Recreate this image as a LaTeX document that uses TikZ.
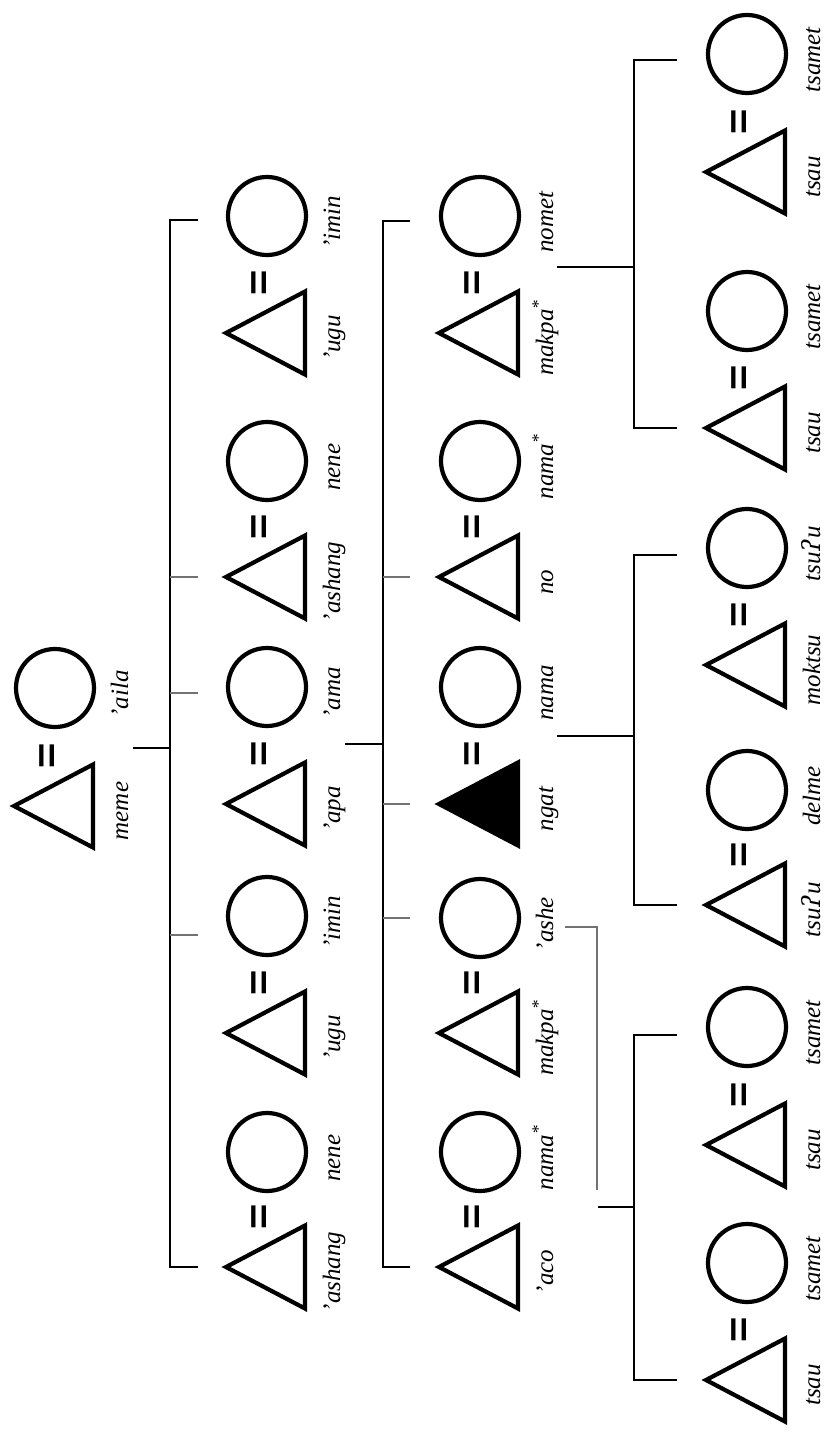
\documentclass[tikz,border=0pt]{standalone}
\usepackage{fontspec}
\usepackage{graphicx}
\setmainfont{Liberation Serif}
\newfontfamily\glotfont{DejaVu Serif}
\newfontfamily\wedfont{DejaVu Sans}
\usetikzlibrary{shapes.geometric}

\tikzset{
	male/.style={draw, line width=4.2pt, isosceles triangle,
		isosceles triangle stretches, shape border rotate=180,
		minimum width=83pt, minimum height=79pt,
		inner sep=0pt, outer sep=0pt, anchor=apex},
	female/.style={draw, line width=4.2pt, circle, minimum size=78pt,
		inner sep=0pt, outer sep=0pt},
	kinname/.style={rotate=90, anchor=base, inner sep=0pt,
		font=\fontsize{25}{25}\selectfont\itshape},
	wed/.style={rotate=90, inner sep=0pt,
		font=\wedfont\fontsize{35}{35}\selectfont},
	kinline/.style={line width=1.8pt},
	kinstub/.style={line width=1.2pt, black!55},
}
\newcommand{\wedsign}{\scalebox{1}[1.5]{=}}
\newcommand{\glot}{{\glotfont ʔ}}
\newcommand{\starmark}{\textsuperscript{*}}

\begin{document}
\begin{tikzpicture}[x=1pt, y=-1pt]

\useasboundingbox (0,0) rectangle (826,1434);

% apex x of the triangles in each generation
\def\colA{14}
\def\colB{226}
\def\colC{439}
\def\colD{706}
\def\wifeX{41}
\def\wedX{38}
\def\nameX{114}

% column / id / triangle y / circle y / husband / wife / fill
\foreach \gx/\id/\ty/\cy/\hn/\wn/\fc in {
	\colA/a/806/688/meme/'aila/white,
	\colB/b1/1267/1152/'ashang/nene/white,
	\colB/b2/1033/916/'ugu/'imin/white,
	\colB/b3/804/687/'apa/'ama/white,
	\colB/b4/577/461/'ashang/nene/white,
	\colB/b5/333/216/'ugu/'imin/white,
	\colC/c1/1267/1152/'aco/nama\starmark/white,
	\colC/c2/1033/918/makpa\starmark/'ashe/white,
	\colC/c3/804/687/ngat/nama/black,
	\colC/c4/577/461/no/nama\starmark/white,
	\colC/c5/333/216/makpa\starmark/nomet/white,
	\colD/d1/1380/1263/tsau/tsamet/white,
	\colD/d2/1145/1027/tsau/tsamet/white,
	\colD/d3/905/790/tsu\glot u/delme/white,
	\colD/d4/665/548/moktsu/tsu\glot u/white,
	\colD/d5/428/311/tsau/tsamet/white,
	\colD/d6/172/54/tsau/tsamet/white}{
	\node[male, fill=\fc] (m\id) at (\gx,\ty) {};
	\node[female] (f\id) at (\gx+\wifeX,\cy) {};
	\node[wed] (w\id) at (\gx+\wedX,\ty-50) {\wedsign};
	\node[kinname] (hn\id) at (\gx+\nameX,\ty+5) {\hn};
	\node[kinname] (wn\id) at (\gx+\nameX,\cy+6) {\wn};
}

% sibling bars
\coordinate (sibB) at (170,0);
\coordinate (sibC) at (383,0);
\coordinate (sibD) at (634,0);

% lines of descent
\coordinate (dropA) at (133,748);
\coordinate (dropB) at (345,744);
\coordinate (dropC5) at (557,267);
\coordinate (dropC3) at (557,736);
\coordinate (dropC2) at (565,927);
\coordinate (turnC2) at (597,1190);
\coordinate (joinD1) at (598,1207);

\draw[kinline] (dropA) -- (dropA -| sibB);
\draw[kinline] ([xshift=28pt,yshift=-4pt]sibB |- fb5) -| (sibB |- mb1) -- ++(28,0);
\draw[kinstub] (sibB |- mb4) -- ++(28,0);
\draw[kinstub] ([yshift=-6pt]sibB |- fb3) -- ++(28,0);
\draw[kinstub] ([yshift=-19pt]sibB |- fb2) -- ++(28,0);

\draw[kinline] (dropB) -- (dropB -| sibC);
\draw[kinline] ([xshift=27pt,yshift=-5pt]sibC |- fc5) -| (sibC |- mc1) -- ++(27,0);
\draw[kinstub] (sibC |- mc4) -- ++(27,0);
\draw[kinstub] (sibC |- mc3) -- ++(27,0);
\draw[kinstub] (sibC |- fc2) -- ++(27,0);

\draw[kinline] (dropC5) -- (dropC5 -| sibD);
\draw[kinline] ([xshift=43pt,yshift=-6pt]sibD |- fd6) -| (sibD |- md5) -- ++(43,0);
\draw[kinline] (dropC3) -- (dropC3 -| sibD);
\draw[kinline] ([xshift=43pt,yshift=-7pt]sibD |- fd4) -| (sibD |- md3) -- ++(43,0);
\draw[kinstub] (dropC2) -| (turnC2);
\draw[kinline] (joinD1) -- (joinD1 -| sibD);
\draw[kinline] ([xshift=43pt,yshift=-8pt]sibD |- fd2) -| (sibD |- md1) -- ++(43,0);

\end{tikzpicture}
\end{document}
